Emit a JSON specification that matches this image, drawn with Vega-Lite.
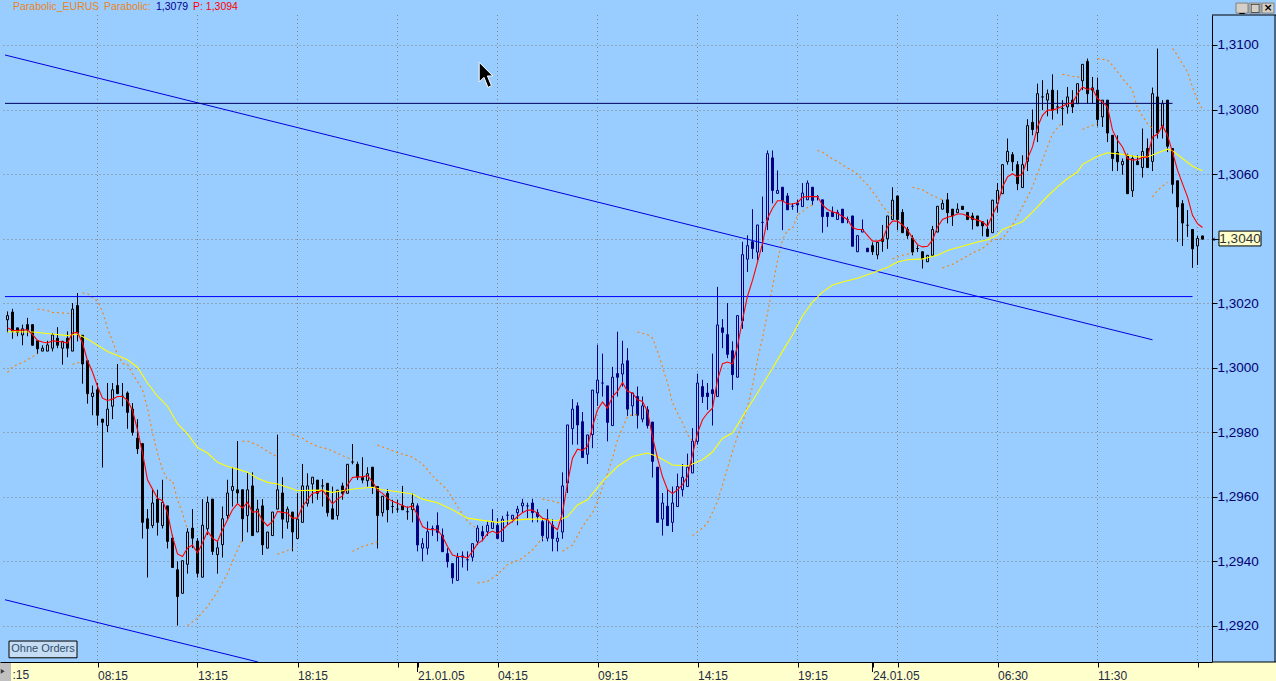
{
  "$schema": "https://vega.github.io/schema/vega-lite/v6.json",
  "width": 1212,
  "height": 647,
  "padding": {"left": 0, "top": 15, "right": 64, "bottom": 19},
  "autosize": {"type": "none"},
  "background": "#99CCFF",
  "config": {"view": {"stroke": null}, "font": "Liberation Sans"},
  "data": {"values": [{}]},
  "datasets": {
    "candles": [
      {"i":0,"o":1.30148,"h":1.30174,"l":1.30109,"c":1.30161,"d":"20.01.05"},
      {"i":1,"o":1.30172,"h":1.30182,"l":1.30089,"c":1.30112,"d":"20.01.05"},
      {"i":2,"o":1.30123,"h":1.30123,"l":1.30097,"c":1.30109,"d":"20.01.05"},
      {"i":3,"o":1.30101,"h":1.30133,"l":1.30069,"c":1.3012,"d":"20.01.05"},
      {"i":4,"o":1.30133,"h":1.30154,"l":1.30097,"c":1.30117,"d":"20.01.05"},
      {"i":5,"o":1.30133,"h":1.30133,"l":1.30069,"c":1.30069,"d":"20.01.05"},
      {"i":6,"o":1.30083,"h":1.30083,"l":1.30042,"c":1.30058,"d":"20.01.05"},
      {"i":7,"o":1.30051,"h":1.30069,"l":1.30051,"c":1.3006,"d":"20.01.05"},
      {"i":8,"o":1.30051,"h":1.30083,"l":1.30051,"c":1.3007,"d":"20.01.05"},
      {"i":9,"o":1.3006,"h":1.30107,"l":1.3005,"c":1.30101,"d":"20.01.05"},
      {"i":10,"o":1.30091,"h":1.30125,"l":1.3006,"c":1.30069,"d":"20.01.05"},
      {"i":11,"o":1.3006,"h":1.30083,"l":1.30009,"c":1.30081,"d":"20.01.05"},
      {"i":12,"o":1.30091,"h":1.30112,"l":1.30032,"c":1.3006,"d":"20.01.05"},
      {"i":13,"o":1.30051,"h":1.302,"l":1.30051,"c":1.30181,"d":"20.01.05"},
      {"i":14,"o":1.30192,"h":1.30231,"l":1.30081,"c":1.30107,"d":"20.01.05"},
      {"i":15,"o":1.301,"h":1.301,"l":1.2995,"c":1.30011,"d":"20.01.05"},
      {"i":16,"o":1.30021,"h":1.30021,"l":1.29888,"c":1.29919,"d":"20.01.05"},
      {"i":17,"o":1.2991,"h":1.29944,"l":1.29852,"c":1.29921,"d":"20.01.05"},
      {"i":18,"o":1.29931,"h":1.29952,"l":1.2982,"c":1.29852,"d":"20.01.05"},
      {"i":19,"o":1.2984,"h":1.2984,"l":1.2969,"c":1.2983,"d":"20.01.05"},
      {"i":20,"o":1.2982,"h":1.29952,"l":1.298,"c":1.29871,"d":"20.01.05"},
      {"i":21,"o":1.2988,"h":1.29952,"l":1.2984,"c":1.29931,"d":"20.01.05"},
      {"i":22,"o":1.29944,"h":1.30011,"l":1.29919,"c":1.29919,"d":"20.01.05"},
      {"i":23,"o":1.29911,"h":1.29952,"l":1.2988,"c":1.29911,"d":"20.01.05"},
      {"i":24,"o":1.29921,"h":1.29926,"l":1.2981,"c":1.29861,"d":"20.01.05"},
      {"i":25,"o":1.29871,"h":1.2989,"l":1.29789,"c":1.29799,"d":"20.01.05"},
      {"i":26,"o":1.29781,"h":1.2984,"l":1.29732,"c":1.29748,"d":"20.01.05"},
      {"i":27,"o":1.29764,"h":1.29764,"l":1.2947,"c":1.2952,"d":"20.01.05"},
      {"i":28,"o":1.29531,"h":1.29561,"l":1.29349,"c":1.29501,"d":"20.01.05"},
      {"i":29,"o":1.2951,"h":1.29621,"l":1.29502,"c":1.2958,"d":"20.01.05"},
      {"i":30,"o":1.29592,"h":1.29621,"l":1.29479,"c":1.2952,"d":"20.01.05"},
      {"i":31,"o":1.2951,"h":1.29652,"l":1.29501,"c":1.29582,"d":"20.01.05"},
      {"i":32,"o":1.29571,"h":1.29571,"l":1.29439,"c":1.29461,"d":"20.01.05"},
      {"i":33,"o":1.29471,"h":1.29481,"l":1.2938,"c":1.2938,"d":"20.01.05"},
      {"i":34,"o":1.29373,"h":1.29399,"l":1.292,"c":1.2929,"d":"20.01.05"},
      {"i":35,"o":1.293,"h":1.29401,"l":1.293,"c":1.29401,"d":"20.01.05"},
      {"i":36,"o":1.2939,"h":1.29502,"l":1.29361,"c":1.2949,"d":"20.01.05"},
      {"i":37,"o":1.29502,"h":1.29561,"l":1.2944,"c":1.29471,"d":"20.01.05"},
      {"i":38,"o":1.29462,"h":1.29471,"l":1.29349,"c":1.29362,"d":"20.01.05"},
      {"i":39,"o":1.2935,"h":1.29592,"l":1.2935,"c":1.29511,"d":"20.01.05"},
      {"i":40,"o":1.295,"h":1.296,"l":1.29481,"c":1.29582,"d":"20.01.05"},
      {"i":41,"o":1.29592,"h":1.29592,"l":1.29419,"c":1.2943,"d":"20.01.05"},
      {"i":42,"o":1.2942,"h":1.29461,"l":1.29361,"c":1.29441,"d":"20.01.05"},
      {"i":43,"o":1.29451,"h":1.29569,"l":1.29411,"c":1.29531,"d":"20.01.05"},
      {"i":44,"o":1.29541,"h":1.29652,"l":1.29531,"c":1.29611,"d":"20.01.05"},
      {"i":45,"o":1.29619,"h":1.29691,"l":1.29569,"c":1.29631,"d":"20.01.05"},
      {"i":46,"o":1.29621,"h":1.29772,"l":1.2958,"c":1.29611,"d":"20.01.05"},
      {"i":47,"o":1.29621,"h":1.29621,"l":1.29461,"c":1.29531,"d":"20.01.05"},
      {"i":48,"o":1.29541,"h":1.29673,"l":1.29489,"c":1.29621,"d":"20.01.05"},
      {"i":49,"o":1.29633,"h":1.29675,"l":1.29479,"c":1.29479,"d":"20.01.05"},
      {"i":50,"o":1.2949,"h":1.2959,"l":1.2949,"c":1.29561,"d":"20.01.05"},
      {"i":51,"o":1.29571,"h":1.29592,"l":1.29419,"c":1.2945,"d":"20.01.05"},
      {"i":52,"o":1.2944,"h":1.2949,"l":1.2944,"c":1.2949,"d":"20.01.05"},
      {"i":53,"o":1.29479,"h":1.29552,"l":1.29479,"c":1.29552,"d":"20.01.05"},
      {"i":54,"o":1.29561,"h":1.29792,"l":1.29561,"c":1.29621,"d":"20.01.05"},
      {"i":55,"o":1.29611,"h":1.2966,"l":1.2947,"c":1.2953,"d":"20.01.05"},
      {"i":56,"o":1.29521,"h":1.29569,"l":1.295,"c":1.29561,"d":"20.01.05"},
      {"i":57,"o":1.29552,"h":1.29552,"l":1.2943,"c":1.2949,"d":"20.01.05"},
      {"i":58,"o":1.2947,"h":1.29611,"l":1.2947,"c":1.2953,"d":"20.01.05"},
      {"i":59,"o":1.2952,"h":1.29701,"l":1.2952,"c":1.29633,"d":"20.01.05"},
      {"i":60,"o":1.29579,"h":1.29672,"l":1.29569,"c":1.29633,"d":"20.01.05"},
      {"i":61,"o":1.29639,"h":1.2966,"l":1.29579,"c":1.2966,"d":"20.01.05"},
      {"i":62,"o":1.29651,"h":1.29651,"l":1.2959,"c":1.2961,"d":"20.01.05"},
      {"i":63,"o":1.29633,"h":1.29654,"l":1.29569,"c":1.29633,"d":"20.01.05"},
      {"i":64,"o":1.29641,"h":1.29641,"l":1.29538,"c":1.2955,"d":"20.01.05"},
      {"i":65,"o":1.29562,"h":1.29631,"l":1.2953,"c":1.2953,"d":"20.01.05"},
      {"i":66,"o":1.29541,"h":1.2962,"l":1.29528,"c":1.2962,"d":"20.01.05"},
      {"i":67,"o":1.29633,"h":1.29643,"l":1.2959,"c":1.2961,"d":"20.01.05"},
      {"i":68,"o":1.2961,"h":1.297,"l":1.2961,"c":1.297,"d":"20.01.05"},
      {"i":69,"o":1.29707,"h":1.29763,"l":1.297,"c":1.29707,"d":"20.01.05"},
      {"i":70,"o":1.297,"h":1.29708,"l":1.29651,"c":1.2966,"d":"20.01.05"},
      {"i":71,"o":1.29659,"h":1.29722,"l":1.29641,"c":1.29651,"d":"20.01.05"},
      {"i":72,"o":1.29649,"h":1.29691,"l":1.29631,"c":1.29671,"d":"20.01.05"},
      {"i":73,"o":1.29691,"h":1.29691,"l":1.29608,"c":1.29631,"d":"20.01.05"},
      {"i":74,"o":1.29631,"h":1.29631,"l":1.29439,"c":1.29541,"d":"20.01.05"},
      {"i":75,"o":1.2955,"h":1.29601,"l":1.29538,"c":1.29601,"d":"20.01.05"},
      {"i":76,"o":1.2961,"h":1.29623,"l":1.2952,"c":1.29559,"d":"20.01.05"},
      {"i":77,"o":1.29569,"h":1.2959,"l":1.29548,"c":1.29569,"d":"20.01.05"},
      {"i":78,"o":1.29561,"h":1.2959,"l":1.2955,"c":1.29561,"d":"20.01.05"},
      {"i":79,"o":1.29571,"h":1.29633,"l":1.29559,"c":1.29559,"d":"20.01.05"},
      {"i":80,"o":1.29553,"h":1.29569,"l":1.29528,"c":1.29553,"d":"20.01.05"},
      {"i":81,"o":1.29559,"h":1.2961,"l":1.2952,"c":1.29579,"d":"20.01.05"},
      {"i":82,"o":1.29571,"h":1.29579,"l":1.2943,"c":1.2945,"d":"21.01.05"},
      {"i":83,"o":1.2944,"h":1.29471,"l":1.29399,"c":1.29454,"d":"21.01.05"},
      {"i":84,"o":1.2944,"h":1.29523,"l":1.2942,"c":1.29491,"d":"21.01.05"},
      {"i":85,"o":1.29501,"h":1.2951,"l":1.29478,"c":1.29501,"d":"21.01.05"},
      {"i":86,"o":1.2951,"h":1.29551,"l":1.29461,"c":1.29489,"d":"21.01.05"},
      {"i":87,"o":1.2948,"h":1.29501,"l":1.29429,"c":1.29429,"d":"21.01.05"},
      {"i":88,"o":1.29423,"h":1.2944,"l":1.2938,"c":1.29398,"d":"21.01.05"},
      {"i":89,"o":1.29392,"h":1.29392,"l":1.2933,"c":1.29348,"d":"21.01.05"},
      {"i":90,"o":1.2934,"h":1.29425,"l":1.2934,"c":1.29412,"d":"21.01.05"},
      {"i":91,"o":1.29416,"h":1.2943,"l":1.2938,"c":1.29412,"d":"21.01.05"},
      {"i":92,"o":1.29404,"h":1.2943,"l":1.2937,"c":1.29404,"d":"21.01.05"},
      {"i":93,"o":1.29412,"h":1.29454,"l":1.29399,"c":1.29454,"d":"21.01.05"},
      {"i":94,"o":1.29461,"h":1.29511,"l":1.2945,"c":1.29502,"d":"21.01.05"},
      {"i":95,"o":1.29491,"h":1.29509,"l":1.29461,"c":1.29478,"d":"21.01.05"},
      {"i":96,"o":1.29491,"h":1.29523,"l":1.29478,"c":1.29511,"d":"21.01.05"},
      {"i":97,"o":1.29501,"h":1.29561,"l":1.29501,"c":1.29522,"d":"21.01.05"},
      {"i":98,"o":1.29511,"h":1.29533,"l":1.2947,"c":1.2947,"d":"21.01.05"},
      {"i":99,"o":1.29461,"h":1.2954,"l":1.29461,"c":1.2953,"d":"21.01.05"},
      {"i":100,"o":1.29542,"h":1.29554,"l":1.29512,"c":1.29542,"d":"21.01.05"},
      {"i":101,"o":1.2953,"h":1.29542,"l":1.2952,"c":1.29542,"d":"21.01.05"},
      {"i":102,"o":1.2955,"h":1.29571,"l":1.29511,"c":1.29561,"d":"21.01.05"},
      {"i":103,"o":1.29571,"h":1.29593,"l":1.2955,"c":1.2958,"d":"21.01.05"},
      {"i":104,"o":1.29571,"h":1.29581,"l":1.29533,"c":1.29571,"d":"21.01.05"},
      {"i":105,"o":1.2958,"h":1.29593,"l":1.2952,"c":1.2955,"d":"21.01.05"},
      {"i":106,"o":1.2955,"h":1.29561,"l":1.2952,"c":1.29538,"d":"21.01.05"},
      {"i":107,"o":1.29522,"h":1.29533,"l":1.29461,"c":1.29479,"d":"21.01.05"},
      {"i":108,"o":1.29471,"h":1.29561,"l":1.29461,"c":1.2953,"d":"21.01.05"},
      {"i":109,"o":1.29511,"h":1.2953,"l":1.2943,"c":1.2947,"d":"21.01.05"},
      {"i":110,"o":1.29461,"h":1.29491,"l":1.2943,"c":1.29471,"d":"21.01.05"},
      {"i":111,"o":1.2949,"h":1.29675,"l":1.29469,"c":1.29633,"d":"21.01.05"},
      {"i":112,"o":1.29642,"h":1.29822,"l":1.29611,"c":1.29822,"d":"21.01.05"},
      {"i":113,"o":1.29811,"h":1.29902,"l":1.29761,"c":1.29871,"d":"21.01.05"},
      {"i":114,"o":1.29881,"h":1.29892,"l":1.29761,"c":1.29822,"d":"21.01.05"},
      {"i":115,"o":1.29832,"h":1.29862,"l":1.29721,"c":1.29721,"d":"21.01.05"},
      {"i":116,"o":1.29731,"h":1.29791,"l":1.29701,"c":1.29791,"d":"21.01.05"},
      {"i":117,"o":1.29792,"h":1.2993,"l":1.2975,"c":1.2993,"d":"21.01.05"},
      {"i":118,"o":1.29921,"h":1.30071,"l":1.29881,"c":1.29961,"d":"21.01.05"},
      {"i":119,"o":1.29952,"h":1.30043,"l":1.2991,"c":1.29952,"d":"21.01.05"},
      {"i":120,"o":1.29943,"h":1.29943,"l":1.29771,"c":1.2983,"d":"21.01.05"},
      {"i":121,"o":1.2982,"h":1.30002,"l":1.2982,"c":1.2997,"d":"21.01.05"},
      {"i":122,"o":1.29981,"h":1.30111,"l":1.2991,"c":1.2997,"d":"21.01.05"},
      {"i":123,"o":1.2998,"h":1.30083,"l":1.29941,"c":1.30011,"d":"21.01.05"},
      {"i":124,"o":1.30021,"h":1.3006,"l":1.2985,"c":1.29871,"d":"21.01.05"},
      {"i":125,"o":1.29881,"h":1.29921,"l":1.2985,"c":1.29921,"d":"21.01.05"},
      {"i":126,"o":1.2991,"h":1.29941,"l":1.29811,"c":1.29852,"d":"21.01.05"},
      {"i":127,"o":1.2984,"h":1.2991,"l":1.2983,"c":1.29881,"d":"21.01.05"},
      {"i":128,"o":1.29869,"h":1.2988,"l":1.29811,"c":1.2982,"d":"21.01.05"},
      {"i":129,"o":1.29831,"h":1.29831,"l":1.29659,"c":1.29709,"d":"21.01.05"},
      {"i":130,"o":1.29691,"h":1.29691,"l":1.2952,"c":1.2952,"d":"21.01.05"},
      {"i":131,"o":1.2953,"h":1.29611,"l":1.29479,"c":1.2958,"d":"21.01.05"},
      {"i":132,"o":1.2957,"h":1.29621,"l":1.2951,"c":1.2951,"d":"21.01.05"},
      {"i":133,"o":1.2952,"h":1.29631,"l":1.2949,"c":1.2958,"d":"21.01.05"},
      {"i":134,"o":1.29569,"h":1.29671,"l":1.29569,"c":1.29631,"d":"21.01.05"},
      {"i":135,"o":1.29621,"h":1.29701,"l":1.296,"c":1.2966,"d":"21.01.05"},
      {"i":136,"o":1.29631,"h":1.29733,"l":1.29631,"c":1.29691,"d":"21.01.05"},
      {"i":137,"o":1.29673,"h":1.29812,"l":1.29673,"c":1.29772,"d":"21.01.05"},
      {"i":138,"o":1.29771,"h":1.29981,"l":1.29761,"c":1.29952,"d":"21.01.05"},
      {"i":139,"o":1.29941,"h":1.29962,"l":1.2989,"c":1.2991,"d":"21.01.05"},
      {"i":140,"o":1.29921,"h":1.29952,"l":1.29869,"c":1.2991,"d":"21.01.05"},
      {"i":141,"o":1.29931,"h":1.30043,"l":1.2982,"c":1.29919,"d":"21.01.05"},
      {"i":142,"o":1.2991,"h":1.3025,"l":1.2991,"c":1.30132,"d":"21.01.05"},
      {"i":143,"o":1.30123,"h":1.3015,"l":1.3006,"c":1.30109,"d":"21.01.05"},
      {"i":144,"o":1.30102,"h":1.302,"l":1.30029,"c":1.30041,"d":"21.01.05"},
      {"i":145,"o":1.30052,"h":1.30081,"l":1.29931,"c":1.29978,"d":"21.01.05"},
      {"i":146,"o":1.2997,"h":1.30161,"l":1.2997,"c":1.30161,"d":"21.01.05"},
      {"i":147,"o":1.30145,"h":1.3039,"l":1.3012,"c":1.3035,"d":"21.01.05"},
      {"i":148,"o":1.30336,"h":1.3041,"l":1.30296,"c":1.30378,"d":"21.01.05"},
      {"i":149,"o":1.3039,"h":1.30491,"l":1.30337,"c":1.30369,"d":"21.01.05"},
      {"i":150,"o":1.30358,"h":1.30442,"l":1.30332,"c":1.30442,"d":"21.01.05"},
      {"i":151,"o":1.3045,"h":1.3053,"l":1.30358,"c":1.3045,"d":"21.01.05"},
      {"i":152,"o":1.30457,"h":1.30673,"l":1.30426,"c":1.30663,"d":"21.01.05"},
      {"i":153,"o":1.3065,"h":1.30673,"l":1.30509,"c":1.30549,"d":"21.01.05"},
      {"i":154,"o":1.3054,"h":1.30611,"l":1.3054,"c":1.30549,"d":"21.01.05"},
      {"i":155,"o":1.30559,"h":1.30559,"l":1.30426,"c":1.30518,"d":"21.01.05"},
      {"i":156,"o":1.30532,"h":1.30541,"l":1.30489,"c":1.30489,"d":"21.01.05"},
      {"i":157,"o":1.305,"h":1.30509,"l":1.30489,"c":1.305,"d":"21.01.05"},
      {"i":158,"o":1.30509,"h":1.3052,"l":1.3048,"c":1.30504,"d":"21.01.05"},
      {"i":159,"o":1.30499,"h":1.30572,"l":1.30499,"c":1.30541,"d":"21.01.05"},
      {"i":160,"o":1.3052,"h":1.3058,"l":1.3052,"c":1.30572,"d":"21.01.05"},
      {"i":161,"o":1.30559,"h":1.30559,"l":1.30504,"c":1.30518,"d":"21.01.05"},
      {"i":162,"o":1.3053,"h":1.30535,"l":1.30518,"c":1.3053,"d":"21.01.05"},
      {"i":163,"o":1.3052,"h":1.3052,"l":1.30418,"c":1.30468,"d":"21.01.05"},
      {"i":164,"o":1.30481,"h":1.30481,"l":1.30436,"c":1.30468,"d":"21.01.05"},
      {"i":165,"o":1.30481,"h":1.30499,"l":1.30468,"c":1.30468,"d":"21.01.05"},
      {"i":166,"o":1.30459,"h":1.30489,"l":1.30459,"c":1.30481,"d":"21.01.05"},
      {"i":167,"o":1.30491,"h":1.30491,"l":1.30449,"c":1.30449,"d":"21.01.05"},
      {"i":168,"o":1.30459,"h":1.30468,"l":1.30447,"c":1.30459,"d":"21.01.05"},
      {"i":169,"o":1.3047,"h":1.3047,"l":1.30376,"c":1.30376,"d":"21.01.05"},
      {"i":170,"o":1.30359,"h":1.30409,"l":1.30359,"c":1.30409,"d":"21.01.05"},
      {"i":171,"o":1.3042,"h":1.30459,"l":1.3042,"c":1.30428,"d":"21.01.05"},
      {"i":172,"o":1.3037,"h":1.3037,"l":1.30359,"c":1.30359,"d":"21.01.05"},
      {"i":173,"o":1.30378,"h":1.30388,"l":1.30349,"c":1.30359,"d":"24.01.05"},
      {"i":174,"o":1.30349,"h":1.30388,"l":1.30336,"c":1.30388,"d":"24.01.05"},
      {"i":175,"o":1.30399,"h":1.30442,"l":1.30359,"c":1.30391,"d":"24.01.05"},
      {"i":176,"o":1.30399,"h":1.3047,"l":1.30368,"c":1.3047,"d":"24.01.05"},
      {"i":177,"o":1.30459,"h":1.30559,"l":1.30459,"c":1.30519,"d":"24.01.05"},
      {"i":178,"o":1.30532,"h":1.30532,"l":1.30426,"c":1.30459,"d":"24.01.05"},
      {"i":179,"o":1.30481,"h":1.30491,"l":1.30418,"c":1.30418,"d":"24.01.05"},
      {"i":180,"o":1.30428,"h":1.30436,"l":1.30399,"c":1.30409,"d":"24.01.05"},
      {"i":181,"o":1.30401,"h":1.3041,"l":1.30348,"c":1.30358,"d":"24.01.05"},
      {"i":182,"o":1.30369,"h":1.30379,"l":1.30358,"c":1.30369,"d":"24.01.05"},
      {"i":183,"o":1.30359,"h":1.30359,"l":1.30307,"c":1.30337,"d":"24.01.05"},
      {"i":184,"o":1.30328,"h":1.30348,"l":1.30328,"c":1.30348,"d":"24.01.05"},
      {"i":185,"o":1.30348,"h":1.30439,"l":1.30348,"c":1.30428,"d":"24.01.05"},
      {"i":186,"o":1.3042,"h":1.305,"l":1.3042,"c":1.305,"d":"24.01.05"},
      {"i":187,"o":1.30491,"h":1.3052,"l":1.30491,"c":1.30509,"d":"24.01.05"},
      {"i":188,"o":1.3052,"h":1.30541,"l":1.30447,"c":1.3048,"d":"24.01.05"},
      {"i":189,"o":1.30491,"h":1.30491,"l":1.30439,"c":1.3047,"d":"24.01.05"},
      {"i":190,"o":1.3048,"h":1.30509,"l":1.3048,"c":1.30491,"d":"24.01.05"},
      {"i":191,"o":1.305,"h":1.305,"l":1.3049,"c":1.3049,"d":"24.01.05"},
      {"i":192,"o":1.30481,"h":1.30481,"l":1.30457,"c":1.30459,"d":"24.01.05"},
      {"i":193,"o":1.3047,"h":1.3048,"l":1.30428,"c":1.30459,"d":"24.01.05"},
      {"i":194,"o":1.3047,"h":1.3047,"l":1.30439,"c":1.30439,"d":"24.01.05"},
      {"i":195,"o":1.30452,"h":1.30452,"l":1.30407,"c":1.30439,"d":"24.01.05"},
      {"i":196,"o":1.30429,"h":1.30459,"l":1.30407,"c":1.30407,"d":"24.01.05"},
      {"i":197,"o":1.30418,"h":1.30519,"l":1.30418,"c":1.30519,"d":"24.01.05"},
      {"i":198,"o":1.30509,"h":1.30572,"l":1.3048,"c":1.30549,"d":"24.01.05"},
      {"i":199,"o":1.30539,"h":1.30629,"l":1.30539,"c":1.30629,"d":"24.01.05"},
      {"i":200,"o":1.30638,"h":1.3071,"l":1.30629,"c":1.3067,"d":"24.01.05"},
      {"i":201,"o":1.3066,"h":1.30668,"l":1.30609,"c":1.30638,"d":"24.01.05"},
      {"i":202,"o":1.30629,"h":1.3064,"l":1.3055,"c":1.3057,"d":"24.01.05"},
      {"i":203,"o":1.30558,"h":1.30658,"l":1.30558,"c":1.30629,"d":"24.01.05"},
      {"i":204,"o":1.30639,"h":1.3077,"l":1.30609,"c":1.3075,"d":"24.01.05"},
      {"i":205,"o":1.3076,"h":1.308,"l":1.3072,"c":1.30738,"d":"24.01.05"},
      {"i":206,"o":1.30728,"h":1.3088,"l":1.30699,"c":1.30849,"d":"24.01.05"},
      {"i":207,"o":1.30839,"h":1.30891,"l":1.30798,"c":1.30839,"d":"24.01.05"},
      {"i":208,"o":1.30829,"h":1.30862,"l":1.30779,"c":1.30849,"d":"24.01.05"},
      {"i":209,"o":1.3086,"h":1.30909,"l":1.30769,"c":1.30798,"d":"24.01.05"},
      {"i":210,"o":1.30808,"h":1.3086,"l":1.30787,"c":1.30808,"d":"24.01.05"},
      {"i":211,"o":1.30803,"h":1.30829,"l":1.30751,"c":1.30803,"d":"24.01.05"},
      {"i":212,"o":1.30808,"h":1.3087,"l":1.30787,"c":1.30839,"d":"24.01.05"},
      {"i":213,"o":1.30829,"h":1.3086,"l":1.30789,"c":1.30808,"d":"24.01.05"},
      {"i":214,"o":1.30818,"h":1.3088,"l":1.30818,"c":1.3088,"d":"24.01.05"},
      {"i":215,"o":1.30889,"h":1.3094,"l":1.3086,"c":1.3094,"d":"24.01.05"},
      {"i":216,"o":1.30949,"h":1.30958,"l":1.30818,"c":1.30849,"d":"24.01.05"},
      {"i":217,"o":1.30867,"h":1.30901,"l":1.30818,"c":1.3086,"d":"24.01.05"},
      {"i":218,"o":1.3086,"h":1.30899,"l":1.30748,"c":1.30769,"d":"24.01.05"},
      {"i":219,"o":1.30777,"h":1.30829,"l":1.30746,"c":1.30829,"d":"24.01.05"},
      {"i":220,"o":1.30829,"h":1.30829,"l":1.30699,"c":1.30727,"d":"24.01.05"},
      {"i":221,"o":1.3072,"h":1.3072,"l":1.30609,"c":1.30648,"d":"24.01.05"},
      {"i":222,"o":1.30668,"h":1.3072,"l":1.30609,"c":1.30638,"d":"24.01.05"},
      {"i":223,"o":1.30629,"h":1.30648,"l":1.30598,"c":1.30639,"d":"24.01.05"},
      {"i":224,"o":1.30658,"h":1.30663,"l":1.30539,"c":1.30539,"d":"24.01.05"},
      {"i":225,"o":1.30548,"h":1.30658,"l":1.30529,"c":1.30648,"d":"24.01.05"},
      {"i":226,"o":1.30639,"h":1.30658,"l":1.30629,"c":1.30629,"d":"24.01.05"},
      {"i":227,"o":1.3062,"h":1.30741,"l":1.30589,"c":1.3067,"d":"24.01.05"},
      {"i":228,"o":1.30679,"h":1.3071,"l":1.3062,"c":1.3062,"d":"24.01.05"},
      {"i":229,"o":1.30639,"h":1.30868,"l":1.30609,"c":1.30849,"d":"24.01.05"},
      {"i":230,"o":1.30839,"h":1.30989,"l":1.3071,"c":1.30727,"d":"24.01.05"},
      {"i":231,"o":1.30748,"h":1.30829,"l":1.3071,"c":1.30818,"d":"24.01.05"},
      {"i":232,"o":1.30829,"h":1.30829,"l":1.30668,"c":1.30686,"d":"24.01.05"},
      {"i":233,"o":1.30679,"h":1.30679,"l":1.30539,"c":1.30568,"d":"24.01.05"},
      {"i":234,"o":1.30579,"h":1.30579,"l":1.3039,"c":1.30498,"d":"24.01.05"},
      {"i":235,"o":1.30508,"h":1.30519,"l":1.30377,"c":1.30448,"d":"24.01.05"},
      {"i":236,"o":1.30441,"h":1.30488,"l":1.30405,"c":1.30441,"d":"24.01.05"},
      {"i":237,"o":1.30428,"h":1.30428,"l":1.30309,"c":1.30368,"d":"24.01.05"},
      {"i":238,"o":1.30377,"h":1.30408,"l":1.30318,"c":1.304,"d":"24.01.05"},
      {"i":239,"o":1.30408,"h":1.30408,"l":1.30398,"c":1.30398,"d":"24.01.05"}
    ],
    "fast": [
      {"i":0,"p":1.30123},{"i":1,"p":1.30115},{"i":2,"p":1.30115},{"i":3,"p":1.30116},{"i":4,"p":1.30117},{"i":5,"p":1.30102},{"i":6,"p":1.30084},{"i":7,"p":1.30079},{"i":8,"p":1.30076},{"i":9,"p":1.30083},{"i":10,"p":1.30081},{"i":11,"p":1.30079},{"i":12,"p":1.30076},{"i":13,"p":1.30107},{"i":14,"p":1.30109},{"i":15,"p":1.30076},{"i":16,"p":1.30021},{"i":17,"p":1.29986},{"i":18,"p":1.29942},{"i":19,"p":1.29905},
      {"i":20,"p":1.29898},{"i":21,"p":1.29902},{"i":22,"p":1.2991},{"i":23,"p":1.2991},{"i":24,"p":1.29898},{"i":25,"p":1.29867},{"i":26,"p":1.29807},{"i":27,"p":1.29735},{"i":28,"p":1.29652},{"i":29,"p":1.29623},{"i":30,"p":1.29595},{"i":31,"p":1.29587},{"i":32,"p":1.29549},{"i":33,"p":1.29476},{"i":34,"p":1.29422},{"i":35,"p":1.29414},{"i":36,"p":1.2944},{"i":37,"p":1.2945},{"i":38,"p":1.29425},{"i":39,"p":1.29456},
      {"i":40,"p":1.29492},{"i":41,"p":1.29471},{"i":42,"p":1.29461},{"i":43,"p":1.29497},{"i":44,"p":1.29528},{"i":45,"p":1.29559},{"i":46,"p":1.29578},{"i":47,"p":1.29564},{"i":48,"p":1.29582},{"i":49,"p":1.29551},{"i":50,"p":1.29554},{"i":51,"p":1.29526},{"i":52,"p":1.29509},{"i":53,"p":1.29523},{"i":54,"p":1.29554},{"i":55,"p":1.29551},{"i":56,"p":1.29549},{"i":57,"p":1.29533},{"i":58,"p":1.29533},{"i":59,"p":1.29569},
      {"i":60,"p":1.2959},{"i":61,"p":1.2961},{"i":62,"p":1.29613},{"i":63,"p":1.2962},{"i":64,"p":1.296},{"i":65,"p":1.29577},{"i":66,"p":1.29592},{"i":67,"p":1.29602},{"i":68,"p":1.29636},{"i":69,"p":1.29659},{"i":70,"p":1.29661},{"i":71,"p":1.29661},{"i":72,"p":1.29665},{"i":73,"p":1.29646},{"i":74,"p":1.2962},{"i":75,"p":1.2961},{"i":76,"p":1.29595},{"i":77,"p":1.29585},{"i":78,"p":1.29579},{"i":79,"p":1.29572},
      {"i":80,"p":1.29566},{"i":81,"p":1.29571},{"i":82,"p":1.29543},{"i":83,"p":1.29507},{"i":84,"p":1.29499},{"i":85,"p":1.29497},{"i":86,"p":1.29497},{"i":87,"p":1.29476},{"i":88,"p":1.29445},{"i":89,"p":1.29419},{"i":90,"p":1.29414},{"i":91,"p":1.29414},{"i":92,"p":1.29409},{"i":93,"p":1.2943},{"i":94,"p":1.29454},{"i":95,"p":1.29464},{"i":96,"p":1.29485},{"i":97,"p":1.29493},{"i":98,"p":1.29485},{"i":99,"p":1.29497},
      {"i":100,"p":1.29512},{"i":101,"p":1.29523},{"i":102,"p":1.29538},{"i":103,"p":1.2955},{"i":104,"p":1.29558},{"i":105,"p":1.29558},{"i":106,"p":1.29548},{"i":107,"p":1.29533},{"i":108,"p":1.29528},{"i":109,"p":1.29509},{"i":110,"p":1.29497},{"i":111,"p":1.29549},{"i":112,"p":1.29642},{"i":113,"p":1.29719},{"i":114,"p":1.29747},{"i":115,"p":1.29743},{"i":116,"p":1.29755},{"i":117,"p":1.29817},{"i":118,"p":1.29869},{"i":119,"p":1.29893},
      {"i":120,"p":1.29874},{"i":121,"p":1.2991},{"i":122,"p":1.29926},{"i":123,"p":1.29954},{"i":124,"p":1.29926},{"i":125,"p":1.29921},{"i":126,"p":1.299},{"i":127,"p":1.29895},{"i":128,"p":1.29864},{"i":129,"p":1.29786},{"i":130,"p":1.29719},{"i":131,"p":1.29662},{"i":132,"p":1.29621},{"i":133,"p":1.29609},{"i":134,"p":1.29621},{"i":135,"p":1.29637},{"i":136,"p":1.29662},{"i":137,"p":1.2973},{"i":138,"p":1.29797},{"i":139,"p":1.29838},
      {"i":140,"p":1.29859},{"i":141,"p":1.29874},{"i":142,"p":1.29962},{"i":143,"p":1.30012},{"i":144,"p":1.30017},{"i":145,"p":1.30011},{"i":146,"p":1.30066},{"i":147,"p":1.30148},{"i":148,"p":1.30221},{"i":149,"p":1.3027},{"i":150,"p":1.30327},{"i":151,"p":1.30384},{"i":152,"p":1.30462},{"i":153,"p":1.30494},{"i":154,"p":1.30517},{"i":155,"p":1.30517},{"i":156,"p":1.30507},{"i":157,"p":1.30507},{"i":158,"p":1.30511},{"i":159,"p":1.30528},
      {"i":160,"p":1.3053},{"i":161,"p":1.3053},{"i":162,"p":1.3053},{"i":163,"p":1.30504},{"i":164,"p":1.3049},{"i":165,"p":1.30483},{"i":166,"p":1.30478},{"i":167,"p":1.30468},{"i":168,"p":1.30459},{"i":169,"p":1.30434},{"i":170,"p":1.30428},{"i":171,"p":1.30428},{"i":172,"p":1.3041},{"i":173,"p":1.30392},{"i":174,"p":1.30392},{"i":175,"p":1.30395},{"i":176,"p":1.30436},{"i":177,"p":1.30454},{"i":178,"p":1.30454},{"i":179,"p":1.30442},
      {"i":180,"p":1.30426},{"i":181,"p":1.30402},{"i":182,"p":1.30381},{"i":183,"p":1.30374},{"i":184,"p":1.30376},{"i":185,"p":1.30395},{"i":186,"p":1.30436},{"i":187,"p":1.30459},{"i":188,"p":1.30466},{"i":189,"p":1.3047},{"i":190,"p":1.30476},{"i":191,"p":1.30476},{"i":192,"p":1.3047},{"i":193,"p":1.30462},{"i":194,"p":1.30457},{"i":195,"p":1.30452},{"i":196,"p":1.30438},{"i":197,"p":1.30473},{"i":198,"p":1.30504},{"i":199,"p":1.3056},
      {"i":200,"p":1.30591},{"i":201,"p":1.30601},{"i":202,"p":1.30591},{"i":203,"p":1.30601},{"i":204,"p":1.30648},{"i":205,"p":1.30684},{"i":206,"p":1.30746},{"i":207,"p":1.30782},{"i":208,"p":1.30798},{"i":209,"p":1.30798},{"i":210,"p":1.30803},{"i":211,"p":1.3081},{"i":212,"p":1.30818},{"i":213,"p":1.3082},{"i":214,"p":1.30849},{"i":215,"p":1.3087},{"i":216,"p":1.30862},{"i":217,"p":1.30865},{"i":218,"p":1.30834},{"i":219,"p":1.30823},
      {"i":220,"p":1.30808},{"i":221,"p":1.30736},{"i":222,"p":1.30705},{"i":223,"p":1.30684},{"i":224,"p":1.30648},{"i":225,"p":1.30643},{"i":226,"p":1.30645},{"i":227,"p":1.30651},{"i":228,"p":1.30653},{"i":229,"p":1.30715},{"i":230,"p":1.30723},{"i":231,"p":1.3075},{"i":232,"p":1.3072},{"i":233,"p":1.30668},{"i":234,"p":1.30612},{"i":235,"p":1.3057},{"i":236,"p":1.30529},{"i":237,"p":1.30472},{"i":238,"p":1.30446},{"i":239,"p":1.30434}
    ],
    "slow": [
      {"i":0,"p":1.30111},{"i":5,"p":1.3011},{"i":9,"p":1.30104},{"i":12,"p":1.30099},{"i":14,"p":1.30104},{"i":16,"p":1.30088},{"i":18,"p":1.30069},{"i":20,"p":1.3005},{"i":22,"p":1.30037},{"i":24,"p":1.30024},{"i":26,"p":1.30001},{"i":28,"p":1.29952},{"i":30,"p":1.29911},{"i":32,"p":1.2988},{"i":34,"p":1.29826},{"i":36,"p":1.29794},{"i":38,"p":1.29752},{"i":40,"p":1.29735},{"i":42,"p":1.29706},{"i":44,"p":1.29693},{"i":46,"p":1.29685},{"i":48,"p":1.29675},{"i":50,"p":1.29657},{"i":52,"p":1.29644},{"i":54,"p":1.29639},{"i":56,"p":1.29629},{"i":58,"p":1.29618},
      {"i":60,"p":1.29619},{"i":63,"p":1.2962},{"i":65,"p":1.29613},{"i":67,"p":1.29618},{"i":70,"p":1.29625},{"i":73,"p":1.29629},{"i":75,"p":1.29621},{"i":78,"p":1.29615},{"i":81,"p":1.29608},{"i":83,"p":1.29592},{"i":86,"p":1.29581},{"i":89,"p":1.29559},{"i":92,"p":1.29533},{"i":95,"p":1.29526},{"i":98,"p":1.2952},{"i":101,"p":1.29526},{"i":104,"p":1.2953},{"i":107,"p":1.2953},{"i":110,"p":1.29525},{"i":112,"p":1.29538},{"i":114,"p":1.29574},{"i":116,"p":1.2959},{"i":119,"p":1.29647},
      {"i":122,"p":1.29693},{"i":125,"p":1.29724},{"i":128,"p":1.29735},{"i":130,"p":1.29724},{"i":133,"p":1.29698},{"i":136,"p":1.29695},{"i":139,"p":1.29714},{"i":141,"p":1.29738},{"i":143,"p":1.29781},{"i":145,"p":1.29797},{"i":147,"p":1.29848},{"i":150,"p":1.29921},{"i":153,"p":1.29998},{"i":155,"p":1.3005},{"i":157,"p":1.30101},{"i":159,"p":1.3016},{"i":161,"p":1.30203},{"i":163,"p":1.30234},{"i":165,"p":1.30256},{"i":167,"p":1.30265},{"i":170,"p":1.30277},{"i":173,"p":1.30293},{"i":176,"p":1.30311},{"i":178,"p":1.30327},{"i":180,"p":1.30334},{"i":183,"p":1.30337},{"i":186,"p":1.30348},{"i":188,"p":1.30363},{"i":191,"p":1.30376},{"i":194,"p":1.30389},{"i":196,"p":1.30396},{"i":198,"p":1.3041},
      {"i":199,"p":1.30428},{"i":203,"p":1.30452},{"i":205,"p":1.30482},{"i":208,"p":1.30531},{"i":210,"p":1.3056},{"i":212,"p":1.30586},{"i":214,"p":1.30606},{"i":215,"p":1.3063},{"i":218,"p":1.30655},{"i":220,"p":1.30666},{"i":223,"p":1.30661},{"i":226,"p":1.30653},{"i":228,"p":1.30653},{"i":230,"p":1.30665},{"i":232,"p":1.30677},{"i":233,"p":1.30672},{"i":235,"p":1.30648},{"i":237,"p":1.30624},{"i":239,"p":1.3061}
    ],
    "bands": [
      {"s":"a","i":0,"p":1.29985},{"s":"a","i":1,"p":1.30002},{"s":"a","i":3,"p":1.30016},{"s":"a","i":4,"p":1.30024},{"s":"a","i":6,"p":1.30043},
      {"s":"b","i":6,"p":1.30181},{"s":"b","i":8,"p":1.30177},{"s":"b","i":9,"p":1.30171},{"s":"b","i":11,"p":1.30169},{"s":"b","i":13,"p":1.30167},
      {"s":"c","i":13,"p":1.3001},{"s":"c","i":15,"p":1.30018},
      {"s":"d","i":15,"p":1.30231},{"s":"d","i":16,"p":1.30229},{"s":"d","i":18,"p":1.30205},{"s":"d","i":19,"p":1.30174},{"s":"d","i":20,"p":1.30122},{"s":"d","i":21,"p":1.30081},{"s":"d","i":22,"p":1.3004},{"s":"d","i":23,"p":1.30012},{"s":"d","i":24,"p":1.3001},{"s":"d","i":25,"p":1.29981},{"s":"d","i":27,"p":1.29931},{"s":"d","i":28,"p":1.29874},{"s":"d","i":29,"p":1.29797},{"s":"d","i":30,"p":1.29735},{"s":"d","i":31,"p":1.29683},{"s":"d","i":32,"p":1.29652},{"s":"d","i":33,"p":1.2965},{"s":"d","i":34,"p":1.2959},{"s":"d","i":35,"p":1.29549},{"s":"d","i":36,"p":1.29497},
      {"s":"e","i":36,"p":1.292},{"s":"e","i":38,"p":1.29223},{"s":"e","i":40,"p":1.29259},{"s":"e","i":42,"p":1.29305},{"s":"e","i":44,"p":1.29362},{"s":"e","i":46,"p":1.29435},{"s":"e","i":47,"p":1.29466},
      {"s":"f","i":47,"p":1.29771},{"s":"f","i":48,"p":1.29772},{"s":"f","i":50,"p":1.2976},{"s":"f","i":52,"p":1.2974},{"s":"f","i":54,"p":1.29722},
      {"s":"g","i":54,"p":1.29421},{"s":"g","i":56,"p":1.29433},{"s":"g","i":57,"p":1.2944},
      {"s":"h","i":57,"p":1.29792},{"s":"h","i":59,"p":1.29781},{"s":"h","i":60,"p":1.2977},{"s":"h","i":62,"p":1.29755},{"s":"h","i":64,"p":1.29748},{"s":"h","i":66,"p":1.29734},{"s":"h","i":68,"p":1.2972},{"s":"h","i":69,"p":1.29715},
      {"s":"i","i":69,"p":1.2943},{"s":"i","i":71,"p":1.29445},{"s":"i","i":74,"p":1.29459},
      {"s":"j","i":74,"p":1.2976},{"s":"j","i":76,"p":1.29748},{"s":"j","i":78,"p":1.29736},{"s":"j","i":81,"p":1.29722},{"s":"j","i":83,"p":1.29701},{"s":"j","i":85,"p":1.29664},{"s":"j","i":88,"p":1.2962},{"s":"j","i":90,"p":1.29569},{"s":"j","i":92,"p":1.29523},{"s":"j","i":94,"p":1.29499},
      {"s":"k","i":94,"p":1.29332},{"s":"k","i":96,"p":1.29337},{"s":"k","i":98,"p":1.29358},{"s":"k","i":100,"p":1.29389},{"s":"k","i":103,"p":1.29409},{"s":"k","i":105,"p":1.29435},{"s":"k","i":107,"p":1.29471},
      {"s":"l","i":107,"p":1.29592},{"s":"l","i":109,"p":1.29586},{"s":"l","i":111,"p":1.29577},
      {"s":"m","i":111,"p":1.2943},{"s":"m","i":113,"p":1.2945},{"s":"m","i":115,"p":1.29507},{"s":"m","i":117,"p":1.2955},{"s":"m","i":118,"p":1.29585},{"s":"m","i":119,"p":1.29629},{"s":"m","i":120,"p":1.29673},{"s":"m","i":121,"p":1.29719},{"s":"m","i":122,"p":1.29776},{"s":"m","i":123,"p":1.29812},{"s":"m","i":124,"p":1.29848},{"s":"m","i":125,"p":1.29854},{"s":"m","i":126,"p":1.29854},
      {"s":"n","i":126,"p":1.3011},{"s":"n","i":128,"p":1.30102},{"s":"n","i":129,"p":1.30091},{"s":"n","i":130,"p":1.3005},{"s":"n","i":131,"p":1.30003},{"s":"n","i":132,"p":1.29952},{"s":"n","i":133,"p":1.2989},{"s":"n","i":134,"p":1.29859},{"s":"n","i":135,"p":1.29828},{"s":"n","i":136,"p":1.29792},{"s":"n","i":137,"p":1.29771},
      {"s":"o","i":137,"p":1.29479},{"s":"o","i":139,"p":1.29502},{"s":"o","i":140,"p":1.29518},{"s":"o","i":142,"p":1.29585},{"s":"o","i":143,"p":1.29636},{"s":"o","i":144,"p":1.29688},{"s":"o","i":145,"p":1.2974},{"s":"o","i":146,"p":1.29786},{"s":"o","i":147,"p":1.29828},{"s":"o","i":148,"p":1.2988},{"s":"o","i":149,"p":1.29942},{"s":"o","i":150,"p":1.30024},{"s":"o","i":151,"p":1.30091},{"s":"o","i":152,"p":1.30169},{"s":"o","i":153,"p":1.3025},{"s":"o","i":154,"p":1.30332},{"s":"o","i":155,"p":1.30395},{"s":"o","i":156,"p":1.30426},{"s":"o","i":157,"p":1.30431},{"s":"o","i":158,"p":1.30473},{"s":"o","i":159,"p":1.30483},{"s":"o","i":160,"p":1.30496},{"s":"o","i":161,"p":1.30504},
      {"s":"p","i":162,"p":1.30673},{"s":"p","i":163,"p":1.30668},{"s":"p","i":164,"p":1.30657},{"s":"p","i":165,"p":1.30647},{"s":"p","i":166,"p":1.30639},{"s":"p","i":167,"p":1.30628},{"s":"p","i":168,"p":1.30619},{"s":"p","i":169,"p":1.3061},{"s":"p","i":170,"p":1.306},{"s":"p","i":171,"p":1.30582},{"s":"p","i":172,"p":1.30567},{"s":"p","i":173,"p":1.30546},{"s":"p","i":174,"p":1.30525},{"s":"p","i":175,"p":1.30501},{"s":"p","i":176,"p":1.30483},{"s":"p","i":177,"p":1.3047},
      {"s":"q","i":177,"p":1.30337},{"s":"q","i":179,"p":1.30348},{"s":"q","i":181,"p":1.30355},
      {"s":"r","i":181,"p":1.30559},{"s":"r","i":183,"p":1.30551},{"s":"r","i":185,"p":1.30533},{"s":"r","i":187,"p":1.3052},
      {"s":"s","i":187,"p":1.30309},{"s":"s","i":189,"p":1.3032},{"s":"s","i":191,"p":1.30337},{"s":"s","i":193,"p":1.30355},{"s":"s","i":195,"p":1.30369},{"s":"s","i":197,"p":1.30395},{"s":"s","i":199,"p":1.304},{"s":"s","i":201,"p":1.30441},{"s":"s","i":203,"p":1.30498},{"s":"s","i":205,"p":1.3056},{"s":"s","i":207,"p":1.30643},{"s":"s","i":209,"p":1.30725},{"s":"s","i":211,"p":1.30761},
      {"s":"t","i":211,"p":1.30909},{"s":"t","i":213,"p":1.30903},{"s":"t","i":215,"p":1.30899},
      {"s":"u","i":215,"p":1.30738},{"s":"u","i":217,"p":1.30751},{"s":"u","i":218,"p":1.30756},
      {"s":"v","i":218,"p":1.30958},{"s":"v","i":220,"p":1.30953},{"s":"v","i":221,"p":1.30937},{"s":"v","i":223,"p":1.30896},{"s":"v","i":225,"p":1.3086},{"s":"v","i":226,"p":1.30803},{"s":"v","i":228,"p":1.30756},{"s":"v","i":229,"p":1.30741},
      {"s":"w","i":229,"p":1.30529},{"s":"w","i":230,"p":1.30549},{"s":"w","i":232,"p":1.30575},
      {"s":"x","i":233,"p":1.30989},{"s":"x","i":234,"p":1.30968},{"s":"x","i":236,"p":1.30916},{"s":"x","i":237,"p":1.3087},{"s":"x","i":238,"p":1.30829},{"s":"x","i":239,"p":1.308}
    ],
    "trend": [
      {"n":"falling upper","i":-0.5,"p":1.30969},{"n":"falling upper","i":229,"p":1.30086},
      {"n":"level upper","i":-0.5,"p":1.30819},{"n":"level upper","i":233,"p":1.30819},
      {"n":"level lower","i":-0.5,"p":1.3022},{"n":"level lower","i":237,"p":1.3022},
      {"n":"falling lower","i":-0.5,"p":1.2928},{"n":"falling lower","i":50.1,"p":1.29087}
    ],
    "gridx": [{"i":18},{"i":38},{"i":58},{"i":78},{"i":98},{"i":118},{"i":138},{"i":158},{"i":178},{"i":198},{"i":218},{"i":238}],
    "dayticks": [{"i":82},{"i":173}],
    "buttons": [
      {"t":"_","i":245.7,"i2":248.1},
      {"t":"□","i":248.3,"i2":250.7},
      {"t":"×","i":250.9,"i2":253.3}
    ]
  },
  "layer": [
    {
      "mark": {"type": "rect", "fill": "#FFFFCC"},
      "encoding": {
        "x": {
          "datum": -1.5,
          "type": "quantitative",
          "scale": {"domain": [-1.5, 240.9], "nice": false, "zero": false, "padding": 0},
          "axis": {
            "title": null,
            "orient": "bottom",
            "zindex": 1,
            "grid": false,
            "values": [18, 38, 58, 78, 82, 98, 118, 138, 158, 173, 178, 198, 218, 238],
            "domainColor": "#000000",
            "tickColor": "#000000",
            "tickSize": 5,
            "labelExpr": "{'18':'08:15','38':'13:15','58':'18:15','82':'21.01.05','98':'04:15','118':'09:15','138':'14:15','158':'19:15','173':'24.01.05','198':'06:30','218':'11:30'}[datum.value] || ''",
            "labelAlign": "left",
            "labelBaseline": "top",
            "labelPadding": 3,
            "labelFontSize": 12,
            "labelColor": "#1E2B46",
            "labelFont": "Liberation Sans",
            "labelOverlap": false,
            "labelFlush": false,
            "labelBound": false
          }
        },
        "x2": {"datum": 253.7},
        "y": {
          "datum": 1.29087,
          "type": "quantitative",
          "scale": {"domain": [1.29087, 1.31093], "nice": false, "zero": false, "padding": 0},
          "axis": {
            "title": null,
            "orient": "right",
            "zindex": 0,
            "grid": true,
            "gridColor": "#808080",
            "gridDash": [1, 3],
            "values": [1.292, 1.294, 1.296, 1.298, 1.3, 1.302, 1.304, 1.306, 1.308, 1.31],
            "domainColor": "#000000",
            "tickColor": "#000000",
            "tickSize": 5,
            "labelExpr": "replace(format(datum.value, '.4f'), '.', ',')",
            "labelPadding": 0,
            "labelFontSize": 13.5,
            "labelColor": "#000070",
            "labelFont": "Liberation Sans",
            "labelOverlap": false,
            "labelBound": false,
            "labelFlush": false
          }
        },
        "y2": {"datum": 1.29028}
      }
    },
    {
      "mark": {"type": "rect", "fill": "#C0C0C0"},
      "encoding": {
        "x": {"datum": -1.5, "type": "quantitative"},
        "x2": {"datum": 0.7},
        "y": {"datum": 1.29087, "type": "quantitative"},
        "y2": {"datum": 1.29028}
      }
    },
    {
      "mark": {"type": "point", "shape": "triangle-right", "filled": true, "color": "#000000", "size": 22},
      "encoding": {
        "x": {"datum": -0.95, "type": "quantitative"},
        "y": {"datum": 1.29058, "type": "quantitative"}
      }
    },
    {
      "data": {"name": "dayticks"},
      "mark": {"type": "rule", "color": "#000000"},
      "encoding": {
        "x": {"field": "i", "type": "quantitative"},
        "y": {"datum": 1.29087, "type": "quantitative"},
        "y2": {"datum": 1.29056}
      }
    },
    {
      "data": {"name": "gridx"},
      "mark": {"type": "rule", "color": "#808080", "strokeDash": [1, 3]},
      "encoding": {
        "x": {"field": "i", "type": "quantitative"}
      }
    },
    {
      "data": {"name": "candles"},
      "mark": {"type": "rule", "strokeWidth": 1},
      "encoding": {
        "x": {"field": "i", "type": "quantitative"},
        "y": {"field": "l", "type": "quantitative"},
        "y2": {"field": "h"},
        "stroke": {
          "field": "d",
          "type": "nominal",
          "scale": {"domain": ["20.01.05", "21.01.05", "24.01.05"], "range": ["#000000", "#000080", "#000000"]},
          "legend": null
        }
      }
    },
    {
      "data": {"name": "candles"},
      "transform": [{"filter": "datum.c > datum.o"}],
      "mark": {"type": "bar", "size": 2, "fill": "#99CCFF", "strokeWidth": 1},
      "encoding": {
        "x": {"field": "i", "type": "quantitative"},
        "y": {"field": "o", "type": "quantitative"},
        "y2": {"field": "c"},
        "stroke": {"field": "d", "type": "nominal", "legend": null}
      }
    },
    {
      "data": {"name": "candles"},
      "transform": [{"filter": "datum.c <= datum.o"}],
      "mark": {"type": "bar", "size": 2, "strokeWidth": 1},
      "encoding": {
        "x": {"field": "i", "type": "quantitative"},
        "y": {"field": "o", "type": "quantitative"},
        "y2": {"field": "c"},
        "stroke": {"field": "d", "type": "nominal", "legend": null},
        "fill": {"field": "d", "type": "nominal", "scale": {"domain": ["20.01.05", "21.01.05", "24.01.05"], "range": ["#000000", "#000080", "#000000"]}, "legend": null}
      }
    },
    {
      "data": {"name": "bands"},
      "mark": {"type": "line", "color": "#FF8000", "strokeWidth": 1.1, "strokeDash": [2, 3]},
      "encoding": {
        "x": {"field": "i", "type": "quantitative"},
        "y": {"field": "p", "type": "quantitative"},
        "detail": {"field": "s"}
      }
    },
    {
      "data": {"name": "trend"},
      "mark": {"type": "line", "strokeWidth": 1},
      "encoding": {
        "x": {"field": "i", "type": "quantitative"},
        "y": {"field": "p", "type": "quantitative"},
        "color": {
          "field": "n",
          "type": "nominal",
          "scale": {"domain": ["falling upper", "level upper", "level lower", "falling lower"], "range": ["#0000E0", "#000060", "#0000FF", "#0000E0"]},
          "legend": null
        }
      }
    },
    {
      "data": {"name": "slow"},
      "mark": {"type": "line", "color": "#FFFF00", "strokeWidth": 1.1},
      "encoding": {
        "x": {"field": "i", "type": "quantitative"},
        "y": {"field": "p", "type": "quantitative"}
      }
    },
    {
      "data": {"name": "fast"},
      "mark": {"type": "line", "color": "#FF0000", "strokeWidth": 1.1},
      "encoding": {
        "x": {"field": "i", "type": "quantitative"},
        "y": {"field": "p", "type": "quantitative"}
      }
    },
    {
      "mark": {"type": "rule", "color": "#000000"},
      "encoding": {
        "x": {"datum": 240.9, "type": "quantitative"},
        "x2": {"datum": 253.7},
        "y": {"datum": 1.31093, "type": "quantitative"}
      }
    },
    {
      "mark": {"type": "rule", "color": "#000000"},
      "encoding": {
        "x": {"datum": 240.9, "type": "quantitative"},
        "x2": {"datum": 253.7},
        "y": {"datum": 1.29087, "type": "quantitative"}
      }
    },
    {
      "mark": {"type": "rule", "color": "#000000"},
      "encoding": {
        "x": {"datum": 253.5, "type": "quantitative"},
        "y": {"datum": 1.29087, "type": "quantitative"},
        "y2": {"datum": 1.31093}
      }
    },
    {
      "mark": {"type": "rect", "fill": "#C6DCF2", "stroke": "#000000", "strokeWidth": 1},
      "encoding": {
        "x": {"datum": 0.3, "type": "quantitative"},
        "x2": {"datum": 13.9},
        "y": {"datum": 1.29152, "type": "quantitative"},
        "y2": {"datum": 1.291}
      }
    },
    {
      "mark": {"type": "text", "text": "Ohne Orders", "fontSize": 11, "color": "#2F4F6F", "font": "Liberation Sans"},
      "encoding": {
        "x": {"datum": 7.1, "type": "quantitative"},
        "y": {"datum": 1.29126, "type": "quantitative"}
      }
    },
    {
      "mark": {"type": "rect", "fill": "#FFFFCC", "stroke": "#000000", "strokeWidth": 1},
      "encoding": {
        "x": {"datum": 242.3, "type": "quantitative"},
        "x2": {"datum": 250.7},
        "y": {"datum": 1.30423, "type": "quantitative"},
        "y2": {"datum": 1.30377}
      }
    },
    {
      "mark": {"type": "text", "text": "1,3040", "fontSize": 13.5, "color": "#333333", "font": "Liberation Sans"},
      "encoding": {
        "x": {"datum": 246.5, "type": "quantitative"},
        "y": {"datum": 1.304, "type": "quantitative"}
      }
    },
    {
      "mark": {"type": "text", "text": "←", "fontSize": 9, "color": "#000000", "font": "DejaVu Sans"},
      "encoding": {
        "x": {"datum": 241.7, "type": "quantitative"},
        "y": {"datum": 1.304, "type": "quantitative"}
      }
    },
    {
      "mark": {"type": "text", "text": ":15", "fontSize": 12, "align": "left", "color": "#1E2B46", "font": "Liberation Sans"},
      "encoding": {
        "x": {"datum": 1, "type": "quantitative"},
        "y": {"datum": 1.29046, "type": "quantitative"}
      }
    },
    {
      "mark": {"type": "text", "text": "Parabolic_EURUS", "fontSize": 10.5, "align": "left", "color": "#E8861E", "font": "Liberation Sans"},
      "encoding": {
        "x": {"datum": 1.1, "type": "quantitative"},
        "y": {"datum": 1.31118, "type": "quantitative"}
      }
    },
    {
      "mark": {"type": "text", "text": "Parabolic:", "fontSize": 10.5, "align": "left", "color": "#E8861E", "font": "Liberation Sans"},
      "encoding": {
        "x": {"datum": 19.3, "type": "quantitative"},
        "y": {"datum": 1.31118, "type": "quantitative"}
      }
    },
    {
      "mark": {"type": "text", "text": "1,3079", "fontSize": 10.5, "align": "left", "color": "#000090", "font": "Liberation Sans"},
      "encoding": {
        "x": {"datum": 29.7, "type": "quantitative"},
        "y": {"datum": 1.31118, "type": "quantitative"}
      }
    },
    {
      "mark": {"type": "text", "text": "P: 1,3094", "fontSize": 10.5, "align": "left", "color": "#FF0000", "font": "Liberation Sans"},
      "encoding": {
        "x": {"datum": 37.1, "type": "quantitative"},
        "y": {"datum": 1.31118, "type": "quantitative"}
      }
    },
    {
      "data": {"name": "buttons"},
      "mark": {"type": "rect", "fill": "#D4D0C8", "stroke": "#808080", "strokeWidth": 1},
      "encoding": {
        "x": {"field": "i", "type": "quantitative"},
        "x2": {"field": "i2"},
        "y": {"datum": 1.3113, "type": "quantitative"},
        "y2": {"datum": 1.31099}
      }
    },
    {
      "data": {"name": "buttons"},
      "transform": [{"calculate": "(datum.i + datum.i2) / 2", "as": "m"}],
      "mark": {"type": "text", "fontSize": 11, "fontWeight": "bold", "color": "#000000", "font": "DejaVu Sans"},
      "encoding": {
        "x": {"field": "m", "type": "quantitative"},
        "y": {"datum": 1.31114, "type": "quantitative"},
        "text": {"field": "t"}
      }
    },
    {
      "mark": {"type": "point", "filled": true, "color": "#000000", "stroke": "#FFFFFF", "strokeWidth": 1, "opacity": 1, "size": 740, "shape": "M-0.5,-1 L-0.5,0.45 L-0.15,0.1 L0.15,0.85 L0.4,0.7 L0.1,0 L0.5,0 Z"},
      "encoding": {
        "x": {"datum": 95.7, "type": "quantitative"},
        "y": {"datum": 1.30904, "type": "quantitative"}
      }
    }
  ]
}
